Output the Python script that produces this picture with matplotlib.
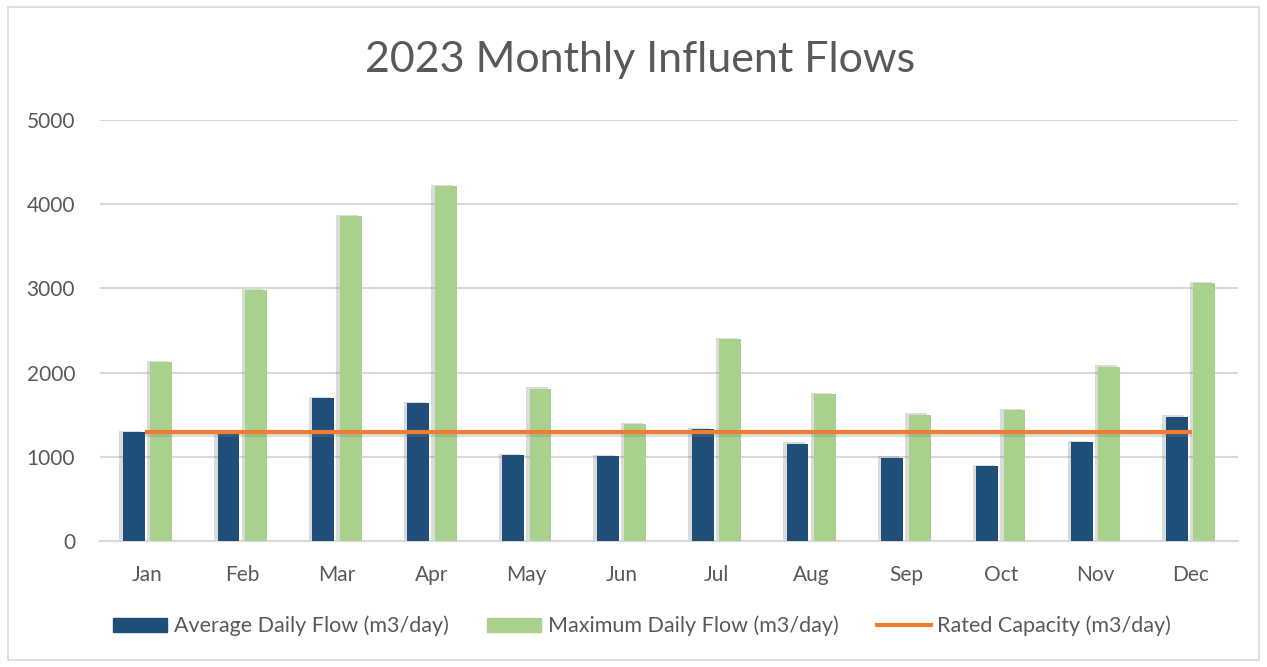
import matplotlib.pyplot as plt
import matplotlib.patheffects as pe
from matplotlib.patches import Rectangle, Patch
from matplotlib.lines import Line2D
import numpy as np

months = ["Jan", "Feb", "Mar", "Apr", "May", "Jun", "Jul", "Aug", "Sep", "Oct", "Nov", "Dec"]
avg_flow = [1295, 1270, 1695, 1640, 1020, 1010, 1330, 1155, 990, 890, 1170, 1475]
max_flow = [2125, 2980, 3860, 4215, 1810, 1390, 2395, 1745, 1500, 1550, 2070, 3060]
rated_capacity = [1300] * 12

plt.rcParams['font.family'] = ['Lato', 'DejaVu Sans']
grey = "#595959"

fig = plt.figure(figsize=(12.67, 6.67), dpi=100)
ax = fig.add_axes([0.079, 0.189, 0.898, 0.631])

x = np.arange(len(months))
w = 0.23
shadow = [pe.SimplePatchShadow(offset=(-2.5, 1), shadow_rgbFace="#7f7f7f", alpha=0.28), pe.Normal()]
ax.bar(x - 0.145, avg_flow, w, color="#1F4E79", zorder=3, path_effects=shadow)
ax.bar(x + 0.145, max_flow, w, color="#A9D18E", zorder=3, path_effects=shadow)
ax.plot(x, rated_capacity, color="#ED7D31", lw=3, zorder=4,
        path_effects=[pe.SimpleLineShadow(offset=(0, -2.5), shadow_color="#7f7f7f", alpha=0.25), pe.Normal()])

ax.set_xlim(-0.5, 11.5)
ax.set_ylim(0, 5000)
ax.set_yticks(range(0, 5001, 1000))
ax.set_xticks(x)
ax.set_xticklabels(months)
ax.grid(axis="y", color="#d9d9d9", lw=1.5, zorder=0)
for s in ["top", "right", "left"]:
    ax.spines[s].set_visible(False)
ax.spines["bottom"].set_color("#d9d9d9")
ax.spines["bottom"].set_linewidth(1.5)
ax.tick_params(axis="both", length=0, labelsize=15, labelcolor=grey)
ax.tick_params(axis="x", pad=17)
ax.tick_params(axis="y", pad=18)

fig.text(0.505, 1 - 60 / 667, "2023 Monthly Influent Flows", ha="center", va="center",
         fontsize=31, color=grey)

handles = [Patch(color="#1F4E79"), Patch(color="#A9D18E"),
           Line2D([], [], color="#ED7D31", lw=3)]
labels = ["Average Daily Flow (m3/day)", "Maximum Daily Flow (m3/day)", "Rated Capacity (m3/day)"]
fig.legend(handles, labels, loc="center", bbox_to_anchor=(0.507, 1 - 626 / 667), ncol=3,
           frameon=False, fontsize=15.5, labelcolor=grey, handlelength=2.5, handleheight=0.65,
           handletextpad=0.3, columnspacing=1.8)

fig.patches.append(Rectangle((0.006, 0.01), 0.988, 0.98, transform=fig.transFigure,
                             fill=False, edgecolor="#d9d9d9", lw=1.2))

fig.savefig("out.png", dpi=100)
